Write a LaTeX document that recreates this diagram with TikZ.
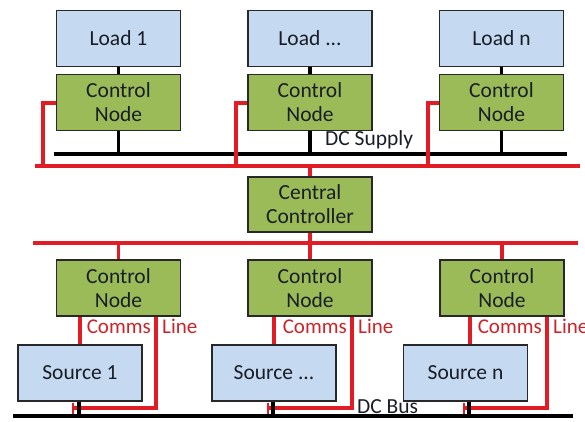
\documentclass[tikz,border=0pt]{standalone}
\usepackage{fontspec}
\setmainfont{Carlito}
\definecolor{loadblue}{RGB}{197,217,241}
\definecolor{ctrlgreen}{RGB}{155,187,89}
\definecolor{boxline}{RGB}{40,40,40}
\definecolor{txt}{RGB}{25,30,38}
\definecolor{commred}{RGB}{226,28,36}
\definecolor{labred}{RGB}{205,35,40}
\tikzset{
  unitbox/.style={draw=boxline, line width=1.7pt, minimum width=124pt, minimum height=56pt,
    inner sep=0pt, align=center, text=txt, font=\fontsize{21.5}{24}\selectfont},
  loadbox/.style={unitbox, fill=loadblue},
  ctrlbox/.style={unitbox, fill=ctrlgreen},
  power/.style={black, line width=3.5pt},
  comm/.style={commred, line width=3.3pt},
  commtick/.style={commred, line width=2.8pt},
  busname/.style={text=txt, font=\fontsize{21.5}{24}\selectfont, inner sep=0pt},
  commname/.style={text=labred, font=\fontsize{21}{24}\selectfont, inner sep=0pt},
}
\begin{document}
\begin{tikzpicture}[x=1pt, y=-1pt]
\useasboundingbox (0,0) rectangle (585,421);

% loads and their control nodes
\node[loadbox] (load1) at (118.5,38.5) {Load 1};
\node[loadbox] (loadm) at (310,38.5) {Load ...};
\node[loadbox] (loadn) at (501.5,38.5) {Load n};
\node[ctrlbox] (cn1) at (118.5,102.5) {Control\\Node};
\node[ctrlbox] (cn2) at (310,102.5) {Control\\Node};
\node[ctrlbox] (cn3) at (501.5,102.5) {Control\\Node};

% central controller
\node[ctrlbox, minimum height=55pt] (cc) at (310,204.5) {Central\\Controller};

% source-side control nodes and sources
\node[ctrlbox] (bn1) at (118.5,288) {Control\\Node};
\node[ctrlbox] (bn2) at (310,288) {Control\\Node};
\node[ctrlbox] (bn3) at (502,288) {Control\\Node};
\node[loadbox] (src1) at (80,373) {Source 1};
\node[loadbox] (src2) at (274,373) {Source ...};
\node[loadbox] (srcn) at (465.5,373) {Source n};

% bus coordinates
\coordinate (supL) at (54,154);  \coordinate (supR) at (567,154);
\coordinate (topL) at (35,166);  \coordinate (topR) at (580,166);
\coordinate (lowL) at (33,243);  \coordinate (lowR) at (578,243);
\coordinate (busL) at (13,416);  \coordinate (busR) at (573,416);

% DC supply and its feeds
\draw[power] (supL) -- (supR);
\foreach \l/\c in {load1/cn1, loadm/cn2, loadn/cn3} {
  \draw[power] (\l.south) -- (\c.north);
  \draw[power] (\c.south) -- (\c.south |- supL);
}
\node[busname, anchor=south west] (dcs) at (325,149) {DC Supply};

% upper comms line
\draw[comm] (topL) -- (topR);
\draw[comm] (cn1.west |- 0,103) -- (43,103) -- (43,166);
\draw[comm] (cn2.west |- 0,103) -- (236,103) -- (236,166);
\draw[comm] (cn3.west |- 0,103) -- (428,103) -- (428,166);
\draw[comm] (cc.north) -- (cc.north |- topL);

% lower comms line
\draw[comm] (lowL) -- (lowR);
\draw[comm] (cc.south) -- (bn2.north);
\draw[comm] (bn1.north |- lowL) -- (bn1.north);
\draw[comm] (bn3.north |- lowL) -- (bn3.north);

% DC bus
\draw[power] (busL) -- (busR);
\node[busname, anchor=south west] (dcb) at (357,414) {DC Bus};

% node-to-source comms links and bus taps
\foreach \b/\s/\da/\xb/\xt/\xp in {bn1/src1/0/156/73/79, bn2/src2/0/352/268/273, bn3/srcn/4.5/547/464/469} {
  \draw[comm] ([xshift=\da pt]\s.north |- \b.south) -- ([xshift=\da pt]\s.north);
  \draw[comm] (\xb,0 |- \b.south) -- (\xb,408) -- (\xt,408);
  \draw[commtick] (\xt,403) -- (\xt,414);
  \draw[power] (\xp,0 |- \s.south) -- (\xp,416);
  \node[commname, anchor=base east] at (\xb-5,333) {Comms};
  \node[commname, anchor=base west] at (\xb+6,333) {Line};
}
\end{tikzpicture}
\end{document}
